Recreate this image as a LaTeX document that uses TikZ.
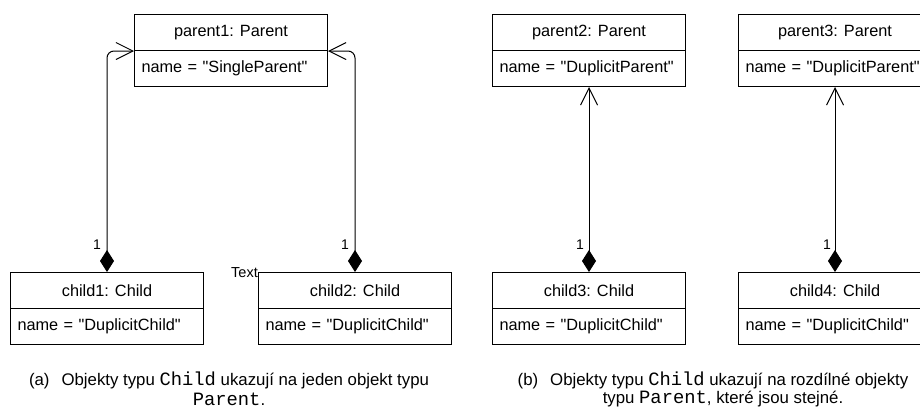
\documentclass[tikz,border=0pt]{standalone}
\usepackage{fontspec}
\setmainfont{Liberation Sans}[Ligatures=TeXOff]
\setmonofont{Liberation Mono}[Scale=1.12]
\usetikzlibrary{arrows.meta}
\begin{document}
\begin{tikzpicture}[x=1pt,y=-1pt,
  every node/.style={font=\fontsize{16.3}{19}\selectfont, inner sep=0pt},
  hdr/.style={draw, line width=1pt, minimum width=193pt, minimum height=36pt, anchor=north west},
  attr/.style={draw, line width=1pt, minimum width=193pt, minimum height=36pt, anchor=north west, align=left, text width=179pt},
  assoc/.style={line width=1pt, {Diamond[length=22pt,width=14pt]}-{Straight Barb[length=17pt,width=17pt,line width=1pt]}},
  mult/.style={font=\fontsize{14}{16}\selectfont},
  captext/.style={font=\fontsize{16.8}{19}\selectfont}
]
\useasboundingbox (0,0) rectangle (920,408);
% (a)
\node[hdr] (p1h) at (134,14) {parent1: Parent};
\node[attr] (p1a) at (134,50) {name = "SingleParent"};
\node[hdr] (c1h) at (10,272) {child1: Child};
\node[attr] (c1a) at (10,308) {name = "DuplicitChild"};
\node[hdr] (c2h) at (258,272) {child2: Child};
\node[attr] (c2a) at (258,308) {name = "DuplicitChild"};
\node[anchor=south east, font=\fontsize{14.5}{16}\selectfont] (txt) at (258,278) {Text};
\draw[assoc, rounded corners=7pt] (c1h.north) |- (p1h.south west);
\draw[assoc, rounded corners=7pt] (c2h.north) |- (p1h.south east);
\node[mult] (m1) at (97,245) {1};
\node[mult] (m2) at (345,245) {1};
% (b)
\node[hdr] (p2h) at (492,14) {parent2: Parent};
\node[attr] (p2a) at (492,50) {name = "DuplicitParent"};
\node[hdr] (p3h) at (738,14) {parent3: Parent};
\node[attr] (p3a) at (738,50) {name = "DuplicitParent"};
\node[hdr] (c3h) at (492,272) {child3: Child};
\node[attr] (c3a) at (492,308) {name = "DuplicitChild"};
\node[hdr] (c4h) at (738,272) {child4: Child};
\node[attr] (c4a) at (738,308) {name = "DuplicitChild"};
\draw[assoc] (c3h.north) -- (p2a.south);
\draw[assoc] (c4h.north) -- (p3a.south);
\node[mult] (m3) at (580,245) {1};
\node[mult] (m4) at (827,245) {1};
% captions
\node[captext] (capa1) at (229,380) {(a)\hspace{12pt}Objekty typu \texttt{Child} ukazují na jeden objekt typu};
\node[captext] (capa2) at (229,399) {\texttt{Parent}.};
\node[captext] (capb1) at (713,380) {(b)\hspace{12pt}Objekty typu \texttt{Child} ukazují na rozdílné objekty};
\node[captext] (capb2) at (723,399) {typu \texttt{Parent}, které jsou stejné.};
\end{tikzpicture}
\end{document}
